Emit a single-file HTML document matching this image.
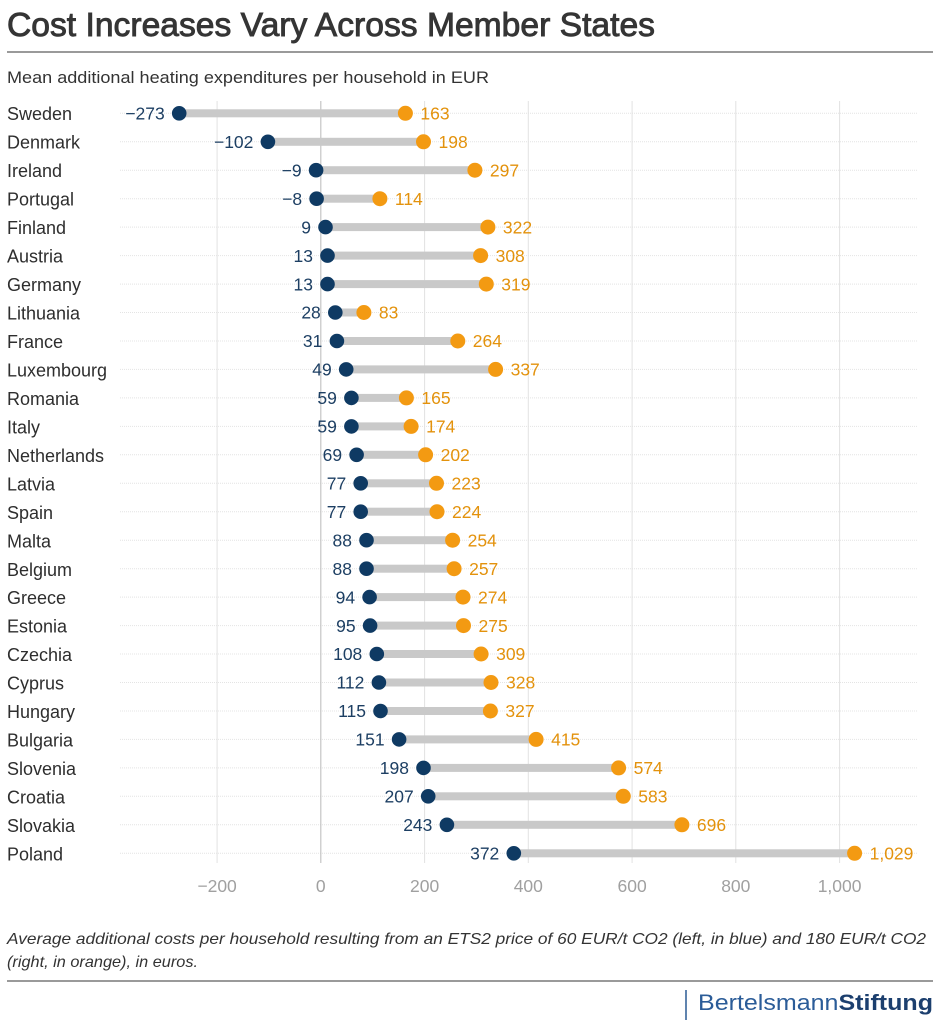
<!DOCTYPE html>
<html><head><meta charset="utf-8">
<style>
html,body{margin:0;padding:0;background:#fff;}
svg{display:block;}
text{font-family:"Liberation Sans",sans-serif;}
</style></head><body>
<svg width="940" height="1029" viewBox="0 0 940 1029" xmlns="http://www.w3.org/2000/svg">
<rect width="940" height="1029" fill="#fff"/>
<text x="7" y="36" font-size="33" fill="#353535" stroke="#353535" stroke-width="0.9" textLength="648" lengthAdjust="spacingAndGlyphs">Cost Increases Vary Across Member States</text>
<line x1="7" y1="52" x2="933" y2="52" stroke="#9a9a9a" stroke-width="2"/>
<text x="7" y="83" font-size="17" fill="#333" textLength="482" lengthAdjust="spacingAndGlyphs">Mean additional heating expenditures per household in EUR</text>

<!-- row lines -->
<g stroke="#e4e4e4" stroke-width="1" stroke-dasharray="1 1">
<line x1="120" x2="918" y1="113.3" y2="113.3"/><line x1="120" x2="918" y1="141.8" y2="141.8"/><line x1="120" x2="918" y1="170.2" y2="170.2"/><line x1="120" x2="918" y1="198.7" y2="198.7"/><line x1="120" x2="918" y1="227.1" y2="227.1"/><line x1="120" x2="918" y1="255.6" y2="255.6"/><line x1="120" x2="918" y1="284.1" y2="284.1"/><line x1="120" x2="918" y1="312.5" y2="312.5"/><line x1="120" x2="918" y1="341" y2="341"/><line x1="120" x2="918" y1="369.4" y2="369.4"/><line x1="120" x2="918" y1="397.9" y2="397.9"/><line x1="120" x2="918" y1="426.4" y2="426.4"/><line x1="120" x2="918" y1="454.8" y2="454.8"/><line x1="120" x2="918" y1="483.3" y2="483.3"/><line x1="120" x2="918" y1="511.7" y2="511.7"/><line x1="120" x2="918" y1="540.2" y2="540.2"/><line x1="120" x2="918" y1="568.7" y2="568.7"/><line x1="120" x2="918" y1="597.1" y2="597.1"/><line x1="120" x2="918" y1="625.6" y2="625.6"/><line x1="120" x2="918" y1="654" y2="654"/><line x1="120" x2="918" y1="682.5" y2="682.5"/><line x1="120" x2="918" y1="711" y2="711"/><line x1="120" x2="918" y1="739.4" y2="739.4"/><line x1="120" x2="918" y1="767.9" y2="767.9"/><line x1="120" x2="918" y1="796.3" y2="796.3"/><line x1="120" x2="918" y1="824.8" y2="824.8"/><line x1="120" x2="918" y1="853.3" y2="853.3"/>
</g>
<!-- vertical grid -->
<g stroke="#e2e2e2" stroke-width="1">
<line x1="217.1" x2="217.1" y1="101" y2="863"/>
<line x1="424.6" x2="424.6" y1="101" y2="863"/>
<line x1="528.3" x2="528.3" y1="101" y2="863"/>
<line x1="632.1" x2="632.1" y1="101" y2="863"/>
<line x1="735.8" x2="735.8" y1="101" y2="863"/>
<line x1="839.6" x2="839.6" y1="101" y2="863"/>
</g>
<line x1="320.8" x2="320.8" y1="101" y2="863" stroke="#c4c4c4" stroke-width="1.2"/>

<!-- tick labels -->
<g font-size="17.5" fill="#a0a0a0" text-anchor="middle">
<text x="217.1" y="892">−200</text>
<text x="320.8" y="892">0</text>
<text x="424.6" y="892">200</text>
<text x="528.3" y="892">400</text>
<text x="632.1" y="892">600</text>
<text x="735.8" y="892">800</text>
<text x="839.6" y="892">1,000</text>
</g>

<!-- country labels -->
<g font-size="18" fill="#2e2e2e">
<text x="7" y="120">Sweden</text>
<text x="7" y="148.5">Denmark</text>
<text x="7" y="177">Ireland</text>
<text x="7" y="205.5">Portugal</text>
<text x="7" y="234">Finland</text>
<text x="7" y="262.5">Austria</text>
<text x="7" y="291">Germany</text>
<text x="7" y="319.5">Lithuania</text>
<text x="7" y="348">France</text>
<text x="7" y="376.5">Luxembourg</text>
<text x="7" y="405">Romania</text>
<text x="7" y="433.5">Italy</text>
<text x="7" y="462">Netherlands</text>
<text x="7" y="490.5">Latvia</text>
<text x="7" y="519">Spain</text>
<text x="7" y="547.5">Malta</text>
<text x="7" y="576">Belgium</text>
<text x="7" y="604">Greece</text>
<text x="7" y="632.5">Estonia</text>
<text x="7" y="661">Czechia</text>
<text x="7" y="689.5">Cyprus</text>
<text x="7" y="718">Hungary</text>
<text x="7" y="746.5">Bulgaria</text>
<text x="7" y="775">Slovenia</text>
<text x="7" y="803.5">Croatia</text>
<text x="7" y="832">Slovakia</text>
<text x="7" y="860.5">Poland</text>
</g>

<!-- bars -->
<g fill="#c9c9c9">
<rect x="179.2" y="109.3" width="226.2" height="8"/>
<rect x="267.9" y="137.8" width="155.6" height="8"/>
<rect x="316.1" y="166.2" width="158.8" height="8"/>
<rect x="316.6" y="194.7" width="63.3" height="8"/>
<rect x="325.5" y="223.1" width="162.4" height="8"/>
<rect x="327.5" y="251.6" width="153.1" height="8"/>
<rect x="327.5" y="280.1" width="158.8" height="8"/>
<rect x="335.3" y="308.5" width="28.6" height="8"/>
<rect x="336.9" y="337" width="120.9" height="8"/>
<rect x="346.2" y="365.4" width="149.4" height="8"/>
<rect x="351.4" y="393.9" width="55" height="8"/>
<rect x="351.4" y="422.4" width="59.7" height="8"/>
<rect x="356.6" y="450.8" width="69" height="8"/>
<rect x="360.7" y="479.3" width="75.8" height="8"/>
<rect x="360.7" y="507.7" width="76.3" height="8"/>
<rect x="366.5" y="536.2" width="86.1" height="8"/>
<rect x="366.5" y="564.7" width="87.6" height="8"/>
<rect x="369.6" y="593.1" width="93.4" height="8"/>
<rect x="370.1" y="621.6" width="93.4" height="8"/>
<rect x="376.8" y="650" width="104.3" height="8"/>
<rect x="378.9" y="678.5" width="112.1" height="8"/>
<rect x="380.5" y="707" width="109.9" height="8"/>
<rect x="399.1" y="735.4" width="137" height="8"/>
<rect x="423.5" y="763.9" width="195.1" height="8"/>
<rect x="428.2" y="792.3" width="195.1" height="8"/>
<rect x="446.9" y="820.8" width="235" height="8"/>
<rect x="513.8" y="849.3" width="340.8" height="8"/>
</g>

<!-- blue dots -->
<g fill="#0f3a63">
<circle cx="179.2" cy="113.3" r="7.3"/>
<circle cx="267.9" cy="141.8" r="7.3"/>
<circle cx="316.1" cy="170.2" r="7.3"/>
<circle cx="316.6" cy="198.7" r="7.3"/>
<circle cx="325.5" cy="227.1" r="7.3"/>
<circle cx="327.5" cy="255.6" r="7.3"/>
<circle cx="327.5" cy="284.1" r="7.3"/>
<circle cx="335.3" cy="312.5" r="7.3"/>
<circle cx="336.9" cy="341" r="7.3"/>
<circle cx="346.2" cy="369.4" r="7.3"/>
<circle cx="351.4" cy="397.9" r="7.3"/>
<circle cx="351.4" cy="426.4" r="7.3"/>
<circle cx="356.6" cy="454.8" r="7.3"/>
<circle cx="360.7" cy="483.3" r="7.3"/>
<circle cx="360.7" cy="511.7" r="7.3"/>
<circle cx="366.5" cy="540.2" r="7.3"/>
<circle cx="366.5" cy="568.7" r="7.3"/>
<circle cx="369.6" cy="597.1" r="7.3"/>
<circle cx="370.1" cy="625.6" r="7.3"/>
<circle cx="376.8" cy="654" r="7.3"/>
<circle cx="378.9" cy="682.5" r="7.3"/>
<circle cx="380.5" cy="711" r="7.3"/>
<circle cx="399.1" cy="739.4" r="7.3"/>
<circle cx="423.5" cy="767.9" r="7.3"/>
<circle cx="428.2" cy="796.3" r="7.3"/>
<circle cx="446.9" cy="824.8" r="7.3"/>
<circle cx="513.8" cy="853.3" r="7.3"/>
</g>

<!-- orange dots -->
<g fill="#f39a12">
<circle cx="405.4" cy="113.3" r="7.5"/>
<circle cx="423.5" cy="141.8" r="7.5"/>
<circle cx="474.9" cy="170.2" r="7.5"/>
<circle cx="379.9" cy="198.7" r="7.5"/>
<circle cx="487.9" cy="227.1" r="7.5"/>
<circle cx="480.6" cy="255.6" r="7.5"/>
<circle cx="486.3" cy="284.1" r="7.5"/>
<circle cx="363.9" cy="312.5" r="7.5"/>
<circle cx="457.8" cy="341" r="7.5"/>
<circle cx="495.6" cy="369.4" r="7.5"/>
<circle cx="406.4" cy="397.9" r="7.5"/>
<circle cx="411.1" cy="426.4" r="7.5"/>
<circle cx="425.6" cy="454.8" r="7.5"/>
<circle cx="436.5" cy="483.3" r="7.5"/>
<circle cx="437" cy="511.7" r="7.5"/>
<circle cx="452.6" cy="540.2" r="7.5"/>
<circle cx="454.1" cy="568.7" r="7.5"/>
<circle cx="463" cy="597.1" r="7.5"/>
<circle cx="463.5" cy="625.6" r="7.5"/>
<circle cx="481.1" cy="654" r="7.5"/>
<circle cx="491" cy="682.5" r="7.5"/>
<circle cx="490.4" cy="711" r="7.5"/>
<circle cx="536.1" cy="739.4" r="7.5"/>
<circle cx="618.6" cy="767.9" r="7.5"/>
<circle cx="623.3" cy="796.3" r="7.5"/>
<circle cx="681.9" cy="824.8" r="7.5"/>
<circle cx="854.6" cy="853.3" r="7.5"/>
</g>

<!-- blue labels -->
<g font-size="17.5" fill="#1d3f63" text-anchor="end">
<text x="164.7" y="119.5">−273</text>
<text x="253.4" y="148">−102</text>
<text x="301.6" y="176.4">−9</text>
<text x="302.1" y="204.9">−8</text>
<text x="311" y="233.3">9</text>
<text x="313" y="261.8">13</text>
<text x="313" y="290.3">13</text>
<text x="320.8" y="318.7">28</text>
<text x="322.4" y="347.2">31</text>
<text x="331.7" y="375.6">49</text>
<text x="336.9" y="404.1">59</text>
<text x="336.9" y="432.6">59</text>
<text x="342.1" y="461">69</text>
<text x="346.2" y="489.5">77</text>
<text x="346.2" y="517.9">77</text>
<text x="352" y="546.4">88</text>
<text x="352" y="574.9">88</text>
<text x="355.1" y="603.3">94</text>
<text x="355.6" y="631.8">95</text>
<text x="362.3" y="660.2">108</text>
<text x="364.4" y="688.7">112</text>
<text x="366" y="717.2">115</text>
<text x="384.6" y="745.6">151</text>
<text x="409" y="774.1">198</text>
<text x="413.7" y="802.5">207</text>
<text x="432.4" y="831">243</text>
<text x="499.3" y="859.5">372</text>
</g>

<!-- orange labels -->
<g font-size="17.5" fill="#e3920c">
<text x="420.4" y="119.5">163</text>
<text x="438.5" y="148">198</text>
<text x="489.9" y="176.4">297</text>
<text x="394.9" y="204.9">114</text>
<text x="502.9" y="233.3">322</text>
<text x="495.6" y="261.8">308</text>
<text x="501.3" y="290.3">319</text>
<text x="378.9" y="318.7">83</text>
<text x="472.8" y="347.2">264</text>
<text x="510.6" y="375.6">337</text>
<text x="421.4" y="404.1">165</text>
<text x="426.1" y="432.6">174</text>
<text x="440.6" y="461">202</text>
<text x="451.5" y="489.5">223</text>
<text x="452" y="517.9">224</text>
<text x="467.6" y="546.4">254</text>
<text x="469.1" y="574.9">257</text>
<text x="478" y="603.3">274</text>
<text x="478.5" y="631.8">275</text>
<text x="496.1" y="660.2">309</text>
<text x="506" y="688.7">328</text>
<text x="505.4" y="717.2">327</text>
<text x="551.1" y="745.6">415</text>
<text x="633.6" y="774.1">574</text>
<text x="638.3" y="802.5">583</text>
<text x="696.9" y="831">696</text>
<text x="869.6" y="859.5">1,029</text>
</g>

<!-- footnote -->
<g font-size="16" font-style="italic" fill="#333">
<text x="7" y="944" textLength="919" lengthAdjust="spacingAndGlyphs">Average additional costs per household resulting from an ETS2 price of 60 EUR/t CO2 (left, in blue) and 180 EUR/t CO2</text>
<text x="7" y="967" textLength="191" lengthAdjust="spacingAndGlyphs">(right, in orange), in euros.</text>
</g>
<line x1="7" y1="981" x2="933" y2="981" stroke="#9a9a9a" stroke-width="2"/>

<!-- logo -->
<line x1="686" y1="990" x2="686" y2="1020" stroke="#2a5a94" stroke-width="1.5"/>
<text x="698" y="1010" font-size="22" textLength="235" lengthAdjust="spacingAndGlyphs"><tspan fill="#2b5c98">Bertelsmann</tspan><tspan fill="#1c3f6e" font-weight="bold">Stiftung</tspan></text>
</svg>
</body></html>
